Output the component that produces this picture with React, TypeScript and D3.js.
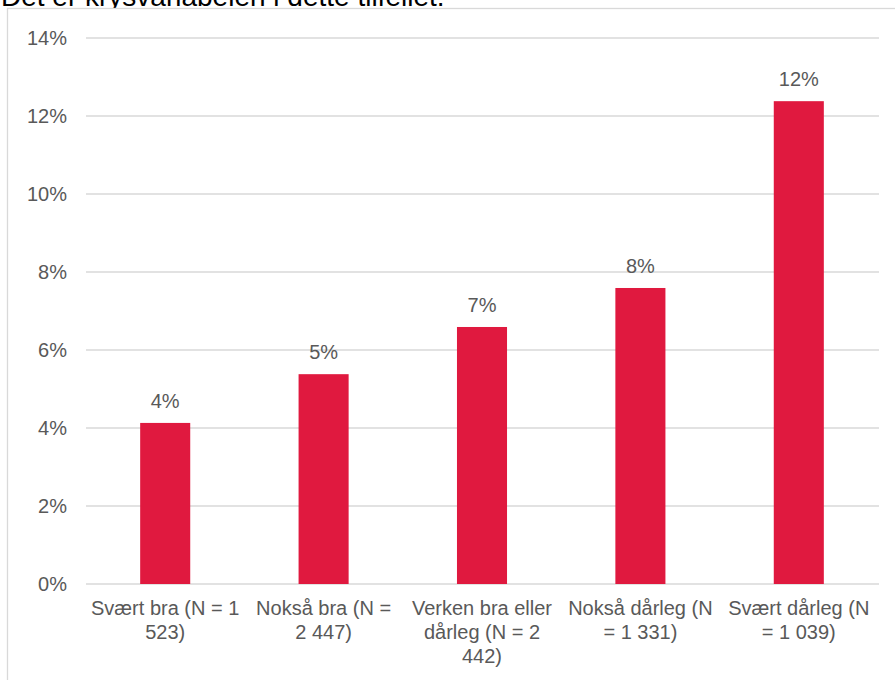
import React from "react";
import * as d3 from "d3";

const categories: string[][] = [
  ["Svært bra (N = 1", "523)"],
  ["Nokså bra (N =", "2 447)"],
  ["Verken bra eller", "dårleg (N = 2", "442)"],
  ["Nokså dårleg (N", "= 1 331)"],
  ["Svært dårleg (N", "= 1 039)"],
];
const values: number[] = [4.13, 5.38, 6.59, 7.59, 12.38];
const yTicks: number[] = [0, 2, 4, 6, 8, 10, 12, 14];
const titleText = "Det er krysvariabelen i dette tilfellet.";

const W = 895;
const H = 680;
const FONT = "'Liberation Sans', Arial, Helvetica, sans-serif";
const TEXT = "#595959";
const GRID = "#D9D9D9";
const BAR = "#E0193F";

export default function App() {
  const keys = categories.map((_, i) => String(i));
  const x = d3
    .scaleBand<string>()
    .domain(keys)
    .range([86, 878])
    .paddingInner(0.684)
    .paddingOuter(0.342);
  const y = d3.scaleLinear().domain([0, 14]).range([584, 38]);

  return (
    <div style={{ position: "absolute", left: 0, top: 0 }}>
      <svg width={W} height={H} style={{ display: "block", fontFamily: FONT }}>
        <rect x={0} y={0} width={W} height={H} fill="#fff" />
        <text x={1} y={6} fontSize={28} fill="#000">{titleText}</text>
        <rect x={7.5} y={8.5} width={W + 20} height={H + 20} fill="#fff" stroke={GRID} strokeWidth={1.3} />
        {yTicks.map((t) => (
          <g key={t}>
            <line x1={86} x2={879} y1={y(t)} y2={y(t)} stroke={GRID} strokeWidth={1.3} />
            <text x={67} y={y(t)} dy="0.36em" textAnchor="end" fontSize={20} fill={TEXT}>
              {`${t}%`}
            </text>
          </g>
        ))}
        {values.map((v, i) => {
          const bx = x(String(i))!;
          const bw = x.bandwidth();
          return (
            <g key={i}>
              <rect x={bx} y={y(v)} width={bw} height={y(0) - y(v)} fill={BAR} />
              <text x={bx + bw / 2} y={y(v) - 15} textAnchor="middle" fontSize={20} fill={TEXT}>
                {`${Math.round(v)}%`}
              </text>
            </g>
          );
        })}
        {categories.map((lines, i) => {
          const cx = x(String(i))! + x.bandwidth() / 2;
          return (
            <text key={i} textAnchor="middle" fontSize={20} fill={TEXT}>
              {lines.map((l, j) => (
                <tspan key={j} x={cx} y={615 + j * 24}>
                  {l}
                </tspan>
              ))}
            </text>
          );
        })}
      </svg>
    </div>
  );
}
